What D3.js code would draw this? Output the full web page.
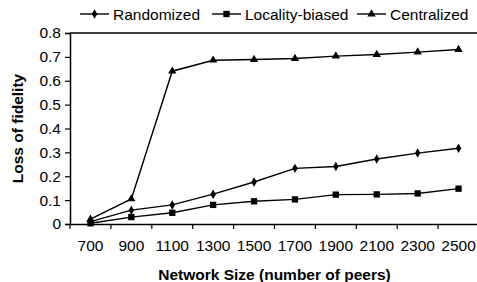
<!DOCTYPE html>
<html>
<head>
<meta charset="utf-8">
<script src="https://cdn.jsdelivr.net/npm/d3@7/dist/d3.min.js"></script>
<style>
  body { margin: 0; background: #fff; }
  text { font-family: Arial, "Liberation Sans", sans-serif; fill: #000; }
</style>
</head>
<body>
<div id="chart"></div>
<script>
const sizes = ['700', '900', '1100', '1300', '1500', '1700', '1900', '2100', '2300', '2500'];
const randomized = [0.01, 0.058, 0.08, 0.125, 0.176, 0.233, 0.241, 0.272, 0.297, 0.317];
const localityBiased = [0.003, 0.029, 0.047, 0.08, 0.095, 0.103, 0.123, 0.124, 0.128, 0.148];
const centralized = [0.02, 0.105, 0.64, 0.686, 0.689, 0.693, 0.703, 0.71, 0.72, 0.731];
const yTicks = [0, 0.1, 0.2, 0.3, 0.4, 0.5, 0.6, 0.7, 0.8];

const series = [
  { name: 'Randomized', values: randomized, marker: d3.symbolDiamond, size: 26 },
  { name: 'Locality-biased', values: localityBiased, marker: d3.symbolSquare, size: 40 },
  { name: 'Centralized', values: centralized, marker: d3.symbolTriangle, size: 30 }
];

const width = 477, height = 282;
const marginLeft = 70, marginTop = 33, plotW = 409, plotH = 191;

const svg = d3.create('svg')
  .attr('width', width)
  .attr('height', height);

const x = d3.scaleBand()
  .domain(sizes)
  .range([0, plotW]);

const y = d3.scaleLinear()
  .domain([0, 0.8])
  .range([plotH, 0]);

const g = svg.append('g')
  .attr('transform', `translate(${marginLeft},${marginTop})`);

// top border of plot area
g.append('line')
  .attr('x1', 0).attr('x2', plotW)
  .attr('y1', 0).attr('y2', 0)
  .attr('stroke', '#000').attr('stroke-width', 1.5);

const yAxis = g.append('g')
  .call(d3.axisLeft(y).tickValues(yTicks).tickFormat(d => d === 0 ? '0' : d3.format('.1f')(d)).tickSize(5).tickPadding(4));

const xAxis = g.append('g')
  .attr('transform', `translate(0,${plotH})`)
  .call(d3.axisBottom(x).tickSize(0).tickPadding(16));

// tick marks on category boundaries
xAxis.selectAll('.bound')
  .data(d3.range(sizes.length + 1))
  .enter()
  .append('line')
    .attr('x1', i => i * x.bandwidth())
    .attr('x2', i => i * x.bandwidth())
    .attr('y1', 0).attr('y2', 5)
    .attr('stroke', '#000').attr('stroke-width', 1.2);

[yAxis, xAxis].forEach(a => {
  a.select('.domain').attr('stroke', '#000').attr('stroke-width', 1.5);
  a.selectAll('.tick line').attr('stroke', '#000').attr('stroke-width', 1.2);
  a.selectAll('.tick text').style('font-size', '15.5px').style('font-family', 'Arial, "Liberation Sans", sans-serif');
});

const line = d3.line()
  .x((d, i) => x(sizes[i]) + x.bandwidth() / 2)
  .y(d => y(d));

series.forEach(s => {
  g.append('path')
    .datum(s.values)
    .attr('d', line)
    .attr('fill', 'none')
    .attr('stroke', '#000')
    .attr('stroke-width', 1.4);

  g.selectAll(null)
    .data(s.values)
    .enter()
    .append('path')
      .attr('d', d3.symbol().type(s.marker).size(s.size))
      .attr('transform', (d, i) => `translate(${x(sizes[i]) + x.bandwidth() / 2},${y(d)})`)
      .attr('fill', '#000');
});

// axis titles
svg.append('text')
  .attr('x', marginLeft + plotW / 2)
  .attr('y', 280)
  .attr('text-anchor', 'middle')
  .style('font-size', '15.5px')
  .style('font-weight', 'bold')
  .text('Network Size (number of peers)');

svg.append('text')
  .attr('transform', `translate(23,${marginTop + plotH / 2}) rotate(-90)`)
  .attr('text-anchor', 'middle')
  .style('font-size', '15.5px')
  .style('font-weight', 'bold')
  .text('Loss of fidelity');

// legend
const legendX = [80, 212, 357];
const legend = svg.append('g');
series.forEach((s, i) => {
  const lg = legend.append('g').attr('transform', `translate(${legendX[i]},14)`);
  lg.append('line')
    .attr('x1', 0).attr('x2', 29)
    .attr('y1', 0).attr('y2', 0)
    .attr('stroke', '#000').attr('stroke-width', 1.4);
  lg.append('path')
    .attr('d', d3.symbol().type(s.marker).size(s.size))
    .attr('transform', 'translate(14.5,0)')
    .attr('fill', '#000');
  lg.append('text')
    .attr('x', 33)
    .attr('y', 5.5)
    .style('font-size', '15.5px')
    .text(s.name);
});

d3.select('#chart').node().appendChild(svg.node());
</script>
</body>
</html>
